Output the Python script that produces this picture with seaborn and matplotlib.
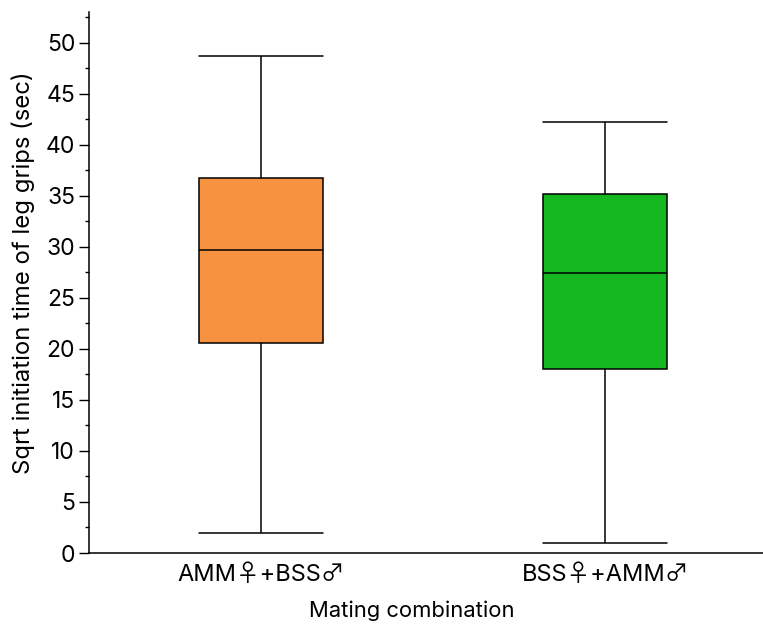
import matplotlib
matplotlib.use("Agg")
import matplotlib.pyplot as plt
from matplotlib.ticker import MultipleLocator
import pandas as pd
import seaborn as sns

# Mating combinations and their five-number summaries (sqrt seconds)
groups = ["AMM\u2640+BSS\u2642", "BSS\u2640+AMM\u2642"]
whisker_low = [1.96, 0.98]
quartile_1 = [20.6, 18.05]
medians = [29.65, 27.4]
quartile_3 = [36.7, 35.15]
whisker_high = [48.7, 42.2]
box_colors = ["#F79240", "#15B821"]

rows = []
for i, g in enumerate(groups):
    for v in (whisker_low[i], quartile_1[i], medians[i], quartile_3[i], whisker_high[i]):
        rows.append({"group": g, "value": v})
df = pd.DataFrame(rows)

sns.set_theme(style="ticks")
plt.rcParams["font.family"] = ["Inter", "Noto Sans CJK JP", "DejaVu Sans"]
plt.rcParams.update({
    "text.color": "black", "axes.labelcolor": "black",
    "xtick.color": "black", "ytick.color": "black",
})

fig = plt.figure(figsize=(7.63, 6.28), dpi=100)
ax = fig.add_axes([89 / 763, 1 - 553 / 628, 1 - 89 / 763, (553 - 12) / 628])

sns.boxplot(
    data=df, x="group", y="value", hue="group", order=groups, hue_order=groups,
    palette=box_colors, legend=False, width=0.36, whis=(0, 100),
    linecolor="black", linewidth=1.1, saturation=1, showfliers=False,
    capwidths=0.36, ax=ax,
)

ax.set_xlim(-0.5, 1.459)
ax.set_ylim(0, 53)
ax.yaxis.set_major_locator(MultipleLocator(5))
ax.yaxis.set_minor_locator(MultipleLocator(2.5))
ax.tick_params(axis="y", which="major", length=7, width=1, labelsize=16.5, pad=3)
ax.tick_params(axis="y", which="minor", length=3, width=1)
ax.tick_params(axis="x", length=0, labelsize=17, pad=8)
for s in ("top", "right"):
    ax.spines[s].set_visible(False)
for s in ("left", "bottom"):
    ax.spines[s].set_color("black")
    ax.spines[s].set_linewidth(1.1)

ax.set_xlabel("Mating combination", fontsize=15.8)
ax.set_ylabel("Sqrt initiation time of leg grips (sec)", fontsize=17.2)
ax.xaxis.set_label_coords(0.479, -0.088)
ax.yaxis.set_label_coords(-0.08, 0.518)

fig.savefig("out.png", dpi=100)
